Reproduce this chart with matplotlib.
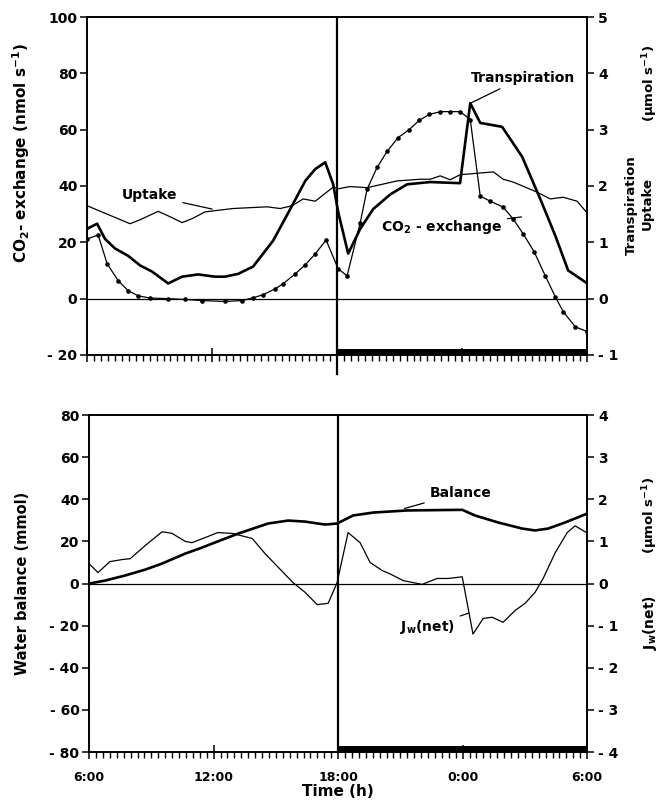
import matplotlib.pyplot as plt
from matplotlib.ticker import MultipleLocator, FuncFormatter

plt.rcParams['font.family'] = ['DejaVu Sans']
plt.rcParams['font.weight'] = 'bold'
plt.rcParams['axes.labelweight'] = 'bold'
plt.rcParams['axes.unicode_minus'] = False
plt.rcParams['mathtext.fontset'] = 'custom'
plt.rcParams['mathtext.rm'] = 'DejaVu Sans:bold'
plt.rcParams['mathtext.it'] = 'DejaVu Sans:bold'
plt.rcParams['mathtext.bf'] = 'DejaVu Sans:bold'
plt.rcParams['mathtext.default'] = 'regular'

# time in hours (6 = 6:00, 24 = 0:00, 30 = 6:00 next morning)
dark = (18, 30)
hour_ticks = [6, 12, 18, 24, 30]
hour_labels = ['6:00', '12:00', '18:00', '0:00', '6:00']

# uptake (umol s-1)
up_t = [6.0, 6.38, 8.06, 8.54, 9.41, 9.89, 10.56, 11.04, 11.66, 13.0, 14.64, 15.27,
        15.84, 16.37, 16.95, 17.81, 18.05, 18.63, 19.44, 20.88, 22.0, 22.47, 22.95,
        23.43, 23.9, 25.5, 25.97, 26.45, 27.6, 28.23, 28.85, 29.52, 30.0]
up_v = [1.65, 1.59, 1.33, 1.40, 1.55, 1.47, 1.35, 1.42, 1.54, 1.60, 1.63, 1.60,
        1.65, 1.77, 1.73, 1.98, 1.95, 1.99, 1.97, 2.09, 2.12, 2.12, 2.18,
        2.11, 2.20, 2.25, 2.12, 2.07, 1.89, 1.77, 1.80, 1.73, 1.52]

# transpiration (umol s-1)
tr_t = [6.0, 6.48, 6.86, 7.34, 7.97, 8.54, 9.12, 9.89, 10.56, 11.33, 12.14, 12.62,
        13.25, 13.97, 14.93, 15.75, 16.47, 16.95, 17.43, 17.81, 18.05, 18.53, 19.11,
        19.73, 20.55, 21.36, 22.47, 23.9, 24.39, 24.87, 25.92, 26.88, 27.75, 28.47,
        29.09, 29.81, 30.0]
tr_v = [1.24, 1.33, 1.06, 0.89, 0.76, 0.59, 0.48, 0.27, 0.39, 0.43, 0.39, 0.39,
        0.44, 0.57, 1.03, 1.59, 2.09, 2.30, 2.42, 2.03, 1.54, 0.80, 1.24,
        1.59, 1.85, 2.03, 2.07, 2.05, 3.47, 3.12, 3.05, 2.52, 1.77, 1.12,
        0.50, 0.32, 0.27]

# CO2 exchange (nmol s-1)
co2_t = [6.0, 6.53, 6.96, 7.49, 7.97, 8.45, 9.02, 9.89, 10.7, 11.52, 12.62, 13.44,
         13.97, 14.45, 15.03, 15.41, 15.99, 16.47, 16.95, 17.47, 18.05, 18.48, 19.11,
         19.44, 19.92, 20.4, 20.93, 21.46, 21.94, 22.42, 22.95, 23.43, 23.9, 24.39,
         24.87, 25.35, 25.97, 26.45, 26.93, 27.46, 27.99, 28.47, 28.85, 29.43, 30.0]
co2_v = [21.2, 22.6, 12.4, 6.4, 2.8, 1.0, 0.2, 0.0, -0.3, -0.7, -1.0, -0.7,
         0.3, 1.4, 3.5, 5.3, 8.8, 12.0, 15.9, 20.8, 10.6, 8.1, 27.0,
         38.9, 46.6, 52.3, 57.2, 60.0, 63.3, 65.4, 66.4, 66.4, 66.4, 63.6,
         36.4, 34.6, 32.5, 28.3, 23.0, 16.6, 8.1, 0.7, -4.6, -10.0, -11.7]

# water balance (mmol)
bal_t = [6.0, 6.77, 7.73, 8.7, 9.52, 10.63, 11.45, 12.07, 13.18, 14.63, 15.59, 16.41,
         17.37, 17.95, 18.72, 19.69, 21.33, 23.98, 24.6, 25.71, 26.87, 27.49, 28.12,
         28.94, 30.0]
bal_v = [0.0, 1.4, 3.8, 6.6, 9.5, 14.2, 17.1, 19.5, 23.7, 28.5, 29.9, 29.4,
         28.0, 28.5, 32.3, 33.7, 34.7, 35.0, 32.3, 29.0, 26.1, 25.2, 26.1,
         29.0, 33.2]

# Jw(net) (umol s-1)
jw_t = [6.0, 6.43, 7.0, 7.6, 7.98, 8.7, 9.52, 10.0, 10.63, 10.96, 11.59, 12.2, 12.9,
        13.86, 14.48, 15.83, 16.41, 16.99, 17.52, 17.95, 18.48, 19.06, 19.54, 20.12,
        20.5, 21.13, 22.05, 22.77, 23.3, 23.98, 24.5, 24.99, 25.42, 25.95, 26.53,
        27.01, 27.49, 27.88, 28.46, 29.04, 29.42, 30.0]
jw_v = [0.47, 0.26, 0.52, 0.57, 0.59, 0.90, 1.23, 1.19, 1.00, 0.97, 1.09, 1.21, 1.19,
        1.07, 0.71, 0.02, -0.21, -0.50, -0.47, 0.02, 1.21, 0.97, 0.50, 0.31,
        0.23, 0.07, -0.02, 0.12, 0.12, 0.16, -1.20, -0.83, -0.80, -0.92, -0.64,
        -0.47, -0.21, 0.12, 0.73, 1.21, 1.37, 1.20]


def dash_minus(v, pos):
    v = int(round(v))
    return '- %d' % abs(v) if v < 0 else '%d' % v


def style_panel(ax, axr, lo, hi, step, rlo, rhi):
    ax.set_xlim(6, 30)
    ax.set_ylim(lo, hi)
    axr.set_ylim(rlo, rhi)
    ax.yaxis.set_major_locator(MultipleLocator(step))
    axr.yaxis.set_major_locator(MultipleLocator(1))
    ax.yaxis.set_major_formatter(FuncFormatter(dash_minus))
    axr.yaxis.set_major_formatter(FuncFormatter(dash_minus))
    ax.set_xticks(hour_ticks)
    ax.xaxis.set_minor_locator(MultipleLocator(1 / 3))
    ax.tick_params(axis='x', which='major', direction='inout', length=10, width=1.1,
                   pad=9, labelsize=9)
    ax.tick_params(axis='x', which='minor', direction='out', length=4, width=1.0)
    ax.tick_params(axis='y', direction='out', length=5, width=1.1, labelsize=10, pad=2)
    axr.tick_params(axis='y', direction='out', length=5, width=1.1, labelsize=10, pad=3)
    for a in (ax, axr):
        for s in a.spines.values():
            s.set_linewidth(1.2)
    ax.axhline(0, color='black', lw=0.9, zorder=1)
    ax.axvline(dark[0], color='black', lw=1.6, zorder=3)
    ax.fill_between(dark, 0, 0.018, color='black', lw=0,
                    transform=ax.get_xaxis_transform(), zorder=3)


fig = plt.figure(figsize=(6.65, 8.02), dpi=100)

# ---- top panel
ax1 = fig.add_axes([0.131, 0.5574, 0.7519, 0.4214])
ax2 = ax1.twinx()
style_panel(ax1, ax2, -20, 100, 20, -1, 5)
ax1.set_xticklabels([])
ax1.axvline(dark[0], ymin=-0.055, ymax=0, color='black', lw=1.6, clip_on=False)

ax2.plot(up_t, up_v, color='black', lw=0.9)
ax2.plot(tr_t, tr_v, color='black', lw=1.9)
ax1.plot(co2_t, co2_v, color='black', lw=0.9, marker='o', ms=2.3)

ax1.set_ylabel('CO$_2$- exchange (nmol s$^{-1}$)', fontsize=11)
ax1.yaxis.set_label_coords(-0.11, 0.598)

fig.text(0.950, 0.744, 'Transpiration', rotation=90, ha='center', va='center', fontsize=9.5)
fig.text(0.973, 0.746, 'Uptake', rotation=90, ha='center', va='center', fontsize=9.5)
fig.text(0.977, 0.896, '(µmol s$^{-1}$)', rotation=90, ha='center', va='center', fontsize=9.5)

arrow = dict(arrowstyle='-', color='black', lw=0.9, shrinkA=2, shrinkB=0)
ax1.annotate('Uptake', xy=(12.0, 31.8), xytext=(9.0, 36.7), ha='center', va='center',
             fontsize=10, arrowprops=arrow)
ax2.annotate('Transpiration', xy=(24.4, 3.47), xytext=(26.9, 3.92), ha='center',
             va='center', fontsize=10, arrowprops=arrow)
ax1.annotate('CO$_2$ - exchange', xy=(26.85, 29.0), xytext=(23.0, 25.5), ha='center',
             va='center', fontsize=10, arrowprops=arrow)

# ---- bottom panel
ax3 = fig.add_axes([0.134, 0.0623, 0.7489, 0.4202])
ax4 = ax3.twinx()
style_panel(ax3, ax4, -80, 80, 20, -4, 4)
ax3.set_xticklabels(hour_labels)

ax3.plot(bal_t, bal_v, color='black', lw=1.9)
ax4.plot(jw_t, jw_v, color='black', lw=0.9)

ax3.set_ylabel('Water balance (mmol)', fontsize=10.5)
ax3.yaxis.set_label_coords(-0.118, 0.5)
ax3.set_xlabel('Time (h)', fontsize=11, labelpad=0)

fig.text(0.977, 0.224, 'J$_w$(net)', rotation=90, ha='center', va='center', fontsize=10)
fig.text(0.977, 0.357, '(µmol s$^{-1}$)', rotation=90, ha='center', va='center', fontsize=9.5)

ax3.annotate('Balance', xy=(21.2, 35.6), xytext=(23.9, 43.2), ha='center', va='center',
             fontsize=10, arrowprops=arrow)
ax4.annotate('J$_w$(net)', xy=(24.3, -0.7), xytext=(22.3, -1.04), ha='center',
             va='center', fontsize=10, arrowprops=arrow)

fig.savefig('out.png', dpi=100)
